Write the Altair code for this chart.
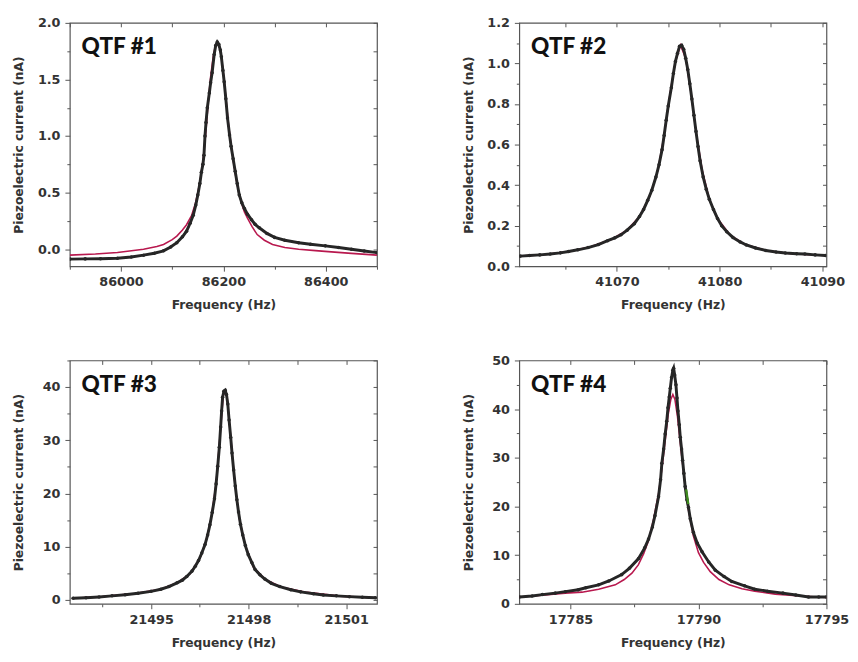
import altair as alt
import pandas as pd

# ---------------- data ----------------
# QTF #1
p1_freq = [85900, 85930, 85960, 85993, 86020, 86044, 86065, 86083, 86097, 86109,
           86120, 86128, 86135, 86141, 86146, 86150, 86154, 86157, 86160, 86162,
           86164, 86166, 86168.6, 86172.5, 86175, 86178, 86182, 86185, 86188, 86191,
           86194, 86196, 86199, 86201.5, 86204.7, 86208, 86212, 86215, 86219, 86223,
           86227, 86231, 86236, 86241, 86247, 86255, 86262, 86270, 86285, 86300,
           86320, 86347, 86370, 86399, 86425, 86450, 86475, 86500]
p1_data = [-0.087, -0.085, -0.083, -0.080, -0.068, -0.052, -0.035, -0.014, 0.02, 0.058,
           0.11, 0.16, 0.23, 0.30, 0.39, 0.48, 0.58, 0.68, 0.75, 0.83,
           1.00, 1.12, 1.25, 1.38, 1.47, 1.56, 1.72, 1.80, 1.83, 1.81,
           1.76, 1.70, 1.58, 1.48, 1.33, 1.16, 1.01, 0.91, 0.80, 0.69,
           0.58, 0.48, 0.41, 0.36, 0.31, 0.26, 0.22, 0.19, 0.14, 0.105,
           0.08, 0.058, 0.045, 0.03, 0.015, 0.0, -0.015, -0.03]
p1_fit_freq = [85900, 85950, 85993, 86044, 86070, 86083, 86100, 86109, 86120, 86128,
               86138, 86145, 86150, 86155, 86160, 86165, 86170, 86175, 86180, 86184,
               86188, 86192, 86196, 86200, 86205, 86210, 86215, 86220, 86225, 86230,
               86236, 86241, 86247, 86256, 86266, 86280, 86296, 86320, 86347, 86380,
               86411, 86450, 86500]
p1_fit = [-0.052, -0.042, -0.029, 0.0, 0.025, 0.043, 0.085, 0.116, 0.17, 0.217,
          0.30, 0.40, 0.50, 0.62, 0.78, 1.00, 1.28, 1.52, 1.70, 1.79,
          1.82, 1.79, 1.70, 1.55, 1.33, 1.10, 0.92, 0.76, 0.62, 0.50,
          0.40, 0.33, 0.275, 0.20, 0.13, 0.08, 0.043, 0.015, 0.0, -0.012,
          -0.023, -0.036, -0.052]

# QTF #2
p2_freq = [41060.6, 41061.5, 41062.5, 41063.5, 41064.5, 41065.3, 41066.2, 41067.2, 41068.2, 41069.1,
           41069.8, 41070.4, 41071.0, 41071.7, 41072.2, 41072.6, 41073.0, 41073.4, 41073.8, 41074.1,
           41074.4, 41074.6, 41074.8, 41075.0, 41075.3, 41075.5, 41075.7, 41075.9, 41076.1, 41076.3,
           41076.5, 41076.7, 41076.9, 41077.1, 41077.3, 41077.5, 41077.7, 41077.9, 41078.1, 41078.4,
           41078.7, 41079.0, 41079.4, 41079.8, 41080.2, 41080.7, 41081.3, 41082.0, 41082.6, 41083.5,
           41084.5, 41085.5, 41086.4, 41087.5, 41088.3, 41089.3, 41090.3]
p2_data = [0.050, 0.053, 0.056, 0.060, 0.066, 0.073, 0.081, 0.092, 0.107, 0.126,
           0.140, 0.155, 0.178, 0.21, 0.245, 0.28, 0.325, 0.375, 0.44, 0.50,
           0.575, 0.645, 0.72, 0.79, 0.88, 0.95, 1.01, 1.05, 1.085, 1.09,
           1.07, 1.025, 0.97, 0.90, 0.825, 0.745, 0.665, 0.59, 0.52, 0.44,
           0.38, 0.33, 0.28, 0.235, 0.20, 0.17, 0.142, 0.12, 0.105, 0.09,
           0.078, 0.070, 0.065, 0.062, 0.060, 0.056, 0.053]
p2_fit_freq = [41060.6, 41063.0, 41065.5, 41067.5, 41069.5, 41071.0, 41072.2, 41073.2, 41074.0, 41074.6,
               41075.2, 41075.7, 41076.2, 41076.7, 41077.2, 41077.7, 41078.3, 41079.0, 41079.8, 41081.0,
               41082.5, 41084.5, 41087.0, 41090.3]
p2_fit = [0.050, 0.058, 0.074, 0.097, 0.133, 0.178, 0.245, 0.345, 0.475, 0.645,
          0.86, 1.01, 1.09, 1.025, 0.86, 0.665, 0.475, 0.33, 0.235, 0.155,
          0.107, 0.078, 0.062, 0.053]

# QTF #3
p3_freq = [21492.6, 21493.0, 21493.4, 21493.8, 21494.2, 21494.6, 21495.0, 21495.3, 21495.55, 21495.8,
           21495.96, 21496.1, 21496.26, 21496.36, 21496.46, 21496.56, 21496.66, 21496.74, 21496.81, 21496.88,
           21496.95, 21497.0, 21497.05, 21497.1, 21497.14, 21497.17, 21497.2, 21497.24, 21497.28, 21497.32,
           21497.36, 21497.4, 21497.45, 21497.49, 21497.54, 21497.59, 21497.64, 21497.69, 21497.75, 21497.82,
           21497.9, 21497.99, 21498.1, 21498.2, 21498.35, 21498.5, 21498.7, 21498.96, 21499.3, 21499.6,
           21500.0, 21500.3, 21500.7, 21501.1, 21501.5, 21501.9]
p3_data = [0.3, 0.4, 0.55, 0.75, 0.95, 1.25, 1.6, 2.0, 2.5, 3.2,
           3.7, 4.4, 5.4, 6.3, 7.4, 8.8, 10.4, 12.2, 14.1, 16.4,
           19.0, 21.8, 25.1, 28.7, 32.5, 35.5, 38.1, 39.2, 39.4, 38.6,
           36.8, 33.8, 30.5, 27.6, 24.4, 21.4, 18.8, 16.5, 14.2, 12.2,
           10.2, 8.5, 7.0, 5.7, 4.7, 3.9, 3.1, 2.5, 1.9, 1.5,
           1.15, 0.9, 0.75, 0.6, 0.5, 0.4]
p3_fit_freq = [21492.6, 21493.5, 21494.5, 21495.3, 21495.8, 21496.2, 21496.5, 21496.7, 21496.85, 21497.0,
               21497.12, 21497.22, 21497.28, 21497.34, 21497.45, 21497.58, 21497.72, 21497.9, 21498.15, 21498.5,
               21499.0, 21499.8, 21500.8, 21501.9]
p3_fit = [0.3, 0.6, 1.2, 2.0, 3.2, 4.9, 7.8, 11.2, 15.4, 21.8,
          30.8, 38.4, 39.3, 38.0, 30.5, 21.8, 15.1, 10.2, 6.1, 3.9,
          2.4, 1.4, 0.7, 0.4]

# QTF #4
p4_freq = [17783.0, 17783.5, 17783.9, 17784.4, 17784.8, 17785.3, 17785.6, 17786.1, 17786.5, 17787.0,
           17787.3, 17787.66, 17787.9, 17788.05, 17788.2, 17788.3, 17788.44, 17788.52, 17788.57, 17788.64,
           17788.7, 17788.76, 17788.81, 17788.86, 17788.9, 17788.95, 17789.0, 17789.03, 17789.07, 17789.12,
           17789.16, 17789.2, 17789.25, 17789.29, 17789.34, 17789.38, 17789.43, 17789.48, 17789.55, 17789.61,
           17789.68, 17789.8, 17789.95, 17790.14, 17790.4, 17790.66, 17791.0, 17791.3, 17791.8, 17792.2,
           17792.7, 17793.3, 17793.8, 17794.3, 17794.7, 17795.0]
p4_data = [1.4, 1.6, 1.9, 2.2, 2.5, 2.9, 3.3, 3.9, 4.7, 6.0,
           7.3, 9.3, 11.5, 13.3, 15.8, 18.1, 22.0, 25.5, 28.9, 31.8,
           34.9, 37.5, 40.3, 42.5, 44.3, 46.5, 48.0, 48.4, 47.0, 45.0,
           42.3, 39.6, 36.8, 34.2, 31.8, 29.5, 26.8, 24.1, 21.4, 19.8,
           17.5, 14.7, 12.5, 10.7, 8.6, 6.9, 5.6, 4.6, 3.7, 3.0,
           2.6, 2.2, 1.8, 1.4, 1.4, 1.4]
p4_fit_freq = [17783.0, 17784.0, 17784.8, 17785.45, 17786.1, 17786.75, 17787.1, 17787.4, 17787.65, 17787.86,
               17788.05, 17788.25, 17788.45, 17788.6, 17788.72, 17788.82, 17788.92, 17789.0, 17789.08, 17789.18,
               17789.3, 17789.45, 17789.6, 17789.8, 17790.0, 17790.2, 17790.46, 17790.8, 17791.2, 17791.7,
               17792.2, 17793.0, 17794.0, 17795.0]
p4_fit = [1.4, 1.8, 2.2, 2.4, 3.0, 3.9, 5.0, 6.3, 8.0, 10.3,
          13.0, 17.5, 22.9, 29.0, 34.5, 39.0, 42.0, 43.0, 42.0, 38.5,
          32.5, 25.5, 19.5, 14.0, 10.5, 8.5, 6.6, 5.0, 3.9, 3.1,
          2.6, 2.0, 1.6, 1.3]
p4_green_freq = [17789.52, 17789.6]
p4_green = [23.5, 20.5]

labels = ["QTF #1", "QTF #2", "QTF #3", "QTF #4"]

# axis tick values (major + minor) and majors
p1_xticks = [85900, 86000, 86100, 86200, 86300, 86400, 86500]
p1_xmajor = [86000, 86200, 86400]
p1_yticks = [0.0, 0.25, 0.5, 0.75, 1.0, 1.25, 1.5, 1.75, 2.0]
p1_ymajor = [0.0, 0.5, 1.0, 1.5, 2.0]

p2_xticks = [41065, 41070, 41075, 41080, 41085, 41090]
p2_xmajor = [41070, 41080, 41090]
p2_yticks = [0.0, 0.1, 0.2, 0.3, 0.4, 0.5, 0.6, 0.7, 0.8, 0.9, 1.0, 1.1, 1.2]
p2_ymajor = [0.0, 0.2, 0.4, 0.6, 0.8, 1.0, 1.2]

p3_xticks = [21493.5, 21495, 21496.5, 21498, 21499.5, 21501]
p3_xmajor = [21495, 21498, 21501]
p3_yticks = [0, 5, 10, 15, 20, 25, 30, 35, 40, 45]
p3_ymajor = [0, 10, 20, 30, 40]

p4_xticks = [17785, 17787.5, 17790, 17792.5, 17795]
p4_xmajor = [17785, 17790, 17795]
p4_yticks = [0, 5, 10, 15, 20, 25, 30, 35, 40, 45, 50]
p4_ymajor = [0, 10, 20, 30, 40, 50]

DOT = "#262626"
FIT = "#b8184e"
GREEN = "#3f8a1f"
W, H = 313, 248


def is_major(majors):
    arr = ",".join(repr(m) for m in majors)
    return f"indexof([{arr}], datum.value) >= 0"


def main_axis(vals, majors, fmt, title, vertical):
    test = is_major(majors)
    kw = dict(values=vals, format=fmt, title=title, grid=False,
              labelExpr=f"{test} ? datum.label : ''",
              tickSize={"condition": {"test": test, "value": 5}, "value": 3},
              labelPadding=5, domain=False)
    if vertical:
        kw.update(minExtent=34, maxExtent=34, titlePadding=11)
    else:
        kw.update(titlePadding=10, labelFlush=False)
    return alt.Axis(**kw)


def mirror_axis(vals, orient):
    return alt.Axis(values=vals, orient=orient, labels=False, title=None, grid=False,
                    domain=False, offset=-4, tickSize=4)


def panel(freq, data, ffreq, fit, xdom, ydom, xt, xm, yt, ym, yfmt, label,
          gfreq=None, gval=None):
    xs = alt.Scale(domain=xdom, nice=False, zero=False)
    ys = alt.Scale(domain=ydom, nice=False, zero=False)
    dd = pd.DataFrame({"f": freq, "v": data})
    fd = pd.DataFrame({"f": ffreq, "v": fit})

    fit_line = alt.Chart(fd).mark_line(color=FIT, strokeWidth=1.6, clip=True).encode(
        x=alt.X("f:Q", scale=xs, axis=main_axis(xt, xm, "d", "Frequency (Hz)", False)),
        y=alt.Y("v:Q", scale=ys, axis=main_axis(yt, ym, yfmt, "Piezoelectric current (nA)", True)),
    )
    data_line = alt.Chart(dd).mark_line(color=DOT, strokeWidth=3.0, clip=True).encode(
        x=alt.X("f:Q", scale=xs, axis=None),
        y=alt.Y("v:Q", scale=ys, axis=None),
    )
    data_pts = alt.Chart(dd).mark_circle(color=DOT, size=13, opacity=1, clip=True).encode(
        x=alt.X("f:Q", scale=xs, axis=mirror_axis(xt, "top")),
        y=alt.Y("v:Q", scale=ys, axis=mirror_axis(yt, "right")),
    )
    layers = [fit_line, data_line, data_pts]
    if gfreq is not None:
        gd = pd.DataFrame({"f": gfreq, "v": gval})
        layers.append(alt.Chart(gd).mark_line(color=GREEN, strokeWidth=2.4).encode(
            x=alt.X("f:Q", scale=xs, axis=None), y=alt.Y("v:Q", scale=ys, axis=None)))
    txt = alt.Chart(pd.DataFrame({"t": [label]})).mark_text(
        font="Lato", fontWeight=900, fontSize=23, align="left", baseline="alphabetic",
        color="#111111").encode(text="t:N", x=alt.value(12), y=alt.value(32))
    layers.append(txt)
    return alt.layer(*layers).resolve_axis(x="independent", y="independent").properties(
        width=W, height=H)


c1 = panel(p1_freq, p1_data, p1_fit_freq, p1_fit, [85900, 86500], [-0.15, 2.0],
           p1_xticks, p1_xmajor, p1_yticks, p1_ymajor, ".1f", labels[0])
c2 = panel(p2_freq, p2_data, p2_fit_freq, p2_fit, [41060.5, 41090.4], [0, 1.2],
           p2_xticks, p2_xmajor, p2_yticks, p2_ymajor, ".1f", labels[1])
c3 = panel(p3_freq, p3_data, p3_fit_freq, p3_fit, [21492.5, 21501.95], [-0.75, 45],
           p3_xticks, p3_xmajor, p3_yticks, p3_ymajor, "d", labels[2])
c4 = panel(p4_freq, p4_data, p4_fit_freq, p4_fit, [17783, 17795], [0, 50],
           p4_xticks, p4_xmajor, p4_yticks, p4_ymajor, "d", labels[3],
           p4_green_freq, p4_green)

chart = alt.vconcat(
    alt.hconcat(c1, c2, spacing=84),
    alt.hconcat(c3, c4, spacing=84),
    spacing=42,
).properties(
    padding={"left": 4, "top": 2, "right": 0, "bottom": 0},
    background="white",
).configure_view(
    stroke="#555", strokeWidth=1.2
).configure_axis(
    labelFont="DejaVu Sans", labelFontWeight="bold", labelFontSize=13, labelColor="#333",
    titleFont="DejaVu Sans", titleFontWeight="bold", titleFontSize=12.5, titleColor="#333",
    tickColor="#555", tickWidth=1,
)

chart.save("out.html", embed_options={"renderer": "svg", "actions": False})
